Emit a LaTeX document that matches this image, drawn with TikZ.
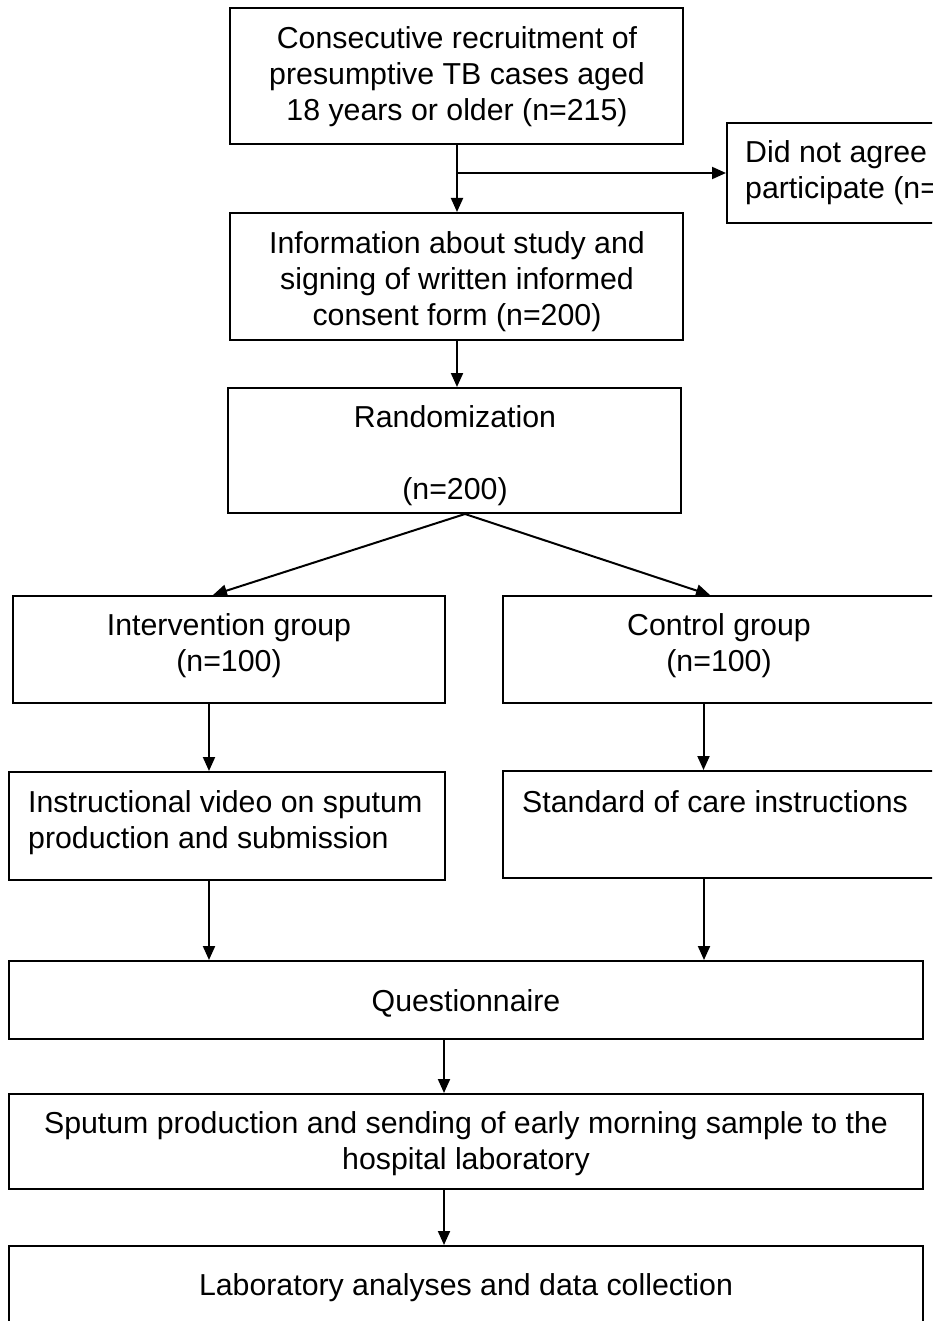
\documentclass[tikz,border=0pt]{standalone}
\usepackage{fontspec}
\setmainfont{Liberation Sans}
\usetikzlibrary{arrows.meta}
\tikzset{
  box/.style={draw, line width=2pt, inner sep=0pt, rectangle},
  txt/.style={inner sep=0pt, font=\fontsize{30.3}{36}\selectfont, align=center},
  arr/.style={line width=2pt, -{Triangle[length=14pt,width=12pt]}},
}
\begin{document}
\begin{tikzpicture}[x=1pt,y=-1pt]
\useasboundingbox[fill=white] (0,0) rectangle (932,1321);
\clip (0,0) rectangle (932,1321);
% boxes
\node[box, minimum width=453pt, minimum height=136pt] (b1) at (456.5,76) {};
\node[box, minimum width=253pt, minimum height=100pt] (no) at (853.5,173) {};
\node[box, minimum width=453pt, minimum height=127pt] (b2) at (456.5,276.5) {};
\node[box, minimum width=453pt, minimum height=125pt] (b3) at (454.5,450.5) {};
\node[box, minimum width=432pt, minimum height=107pt] (b4) at (229,649.5) {};
\node[box, minimum width=497pt, minimum height=107pt] (b5) at (751.5,649.5) {};
\node[box, minimum width=436pt, minimum height=108pt] (b6) at (227,826) {};
\node[box, minimum width=497pt, minimum height=107pt] (b7) at (751.5,824.5) {};
\node[box, minimum width=914pt, minimum height=78pt] (b8) at (466,1000) {};
\node[box, minimum width=914pt, minimum height=95pt] (b9) at (466,1141.5) {};
\node[box, minimum width=914pt, minimum height=114pt] (b10) at (466,1303) {};
% texts
\node[txt] (t1) at (457,77) {Consecutive recruitment of\\presumptive TB cases aged\\18 years or older (n=215)};
\node[txt, anchor=west, align=left] (tno) at (745,172.5) {Did not agree\\participate (n=};
\node[txt] (t2) at (457,282) {Information about study and\\signing of written informed\\consent form (n=200)};
\node[txt] (t3) at (455,456) {Randomization\\\mbox{}\\(n=200)};
\node[txt] (t4) at (229,645.5) {Intervention group\\(n=100)};
\node[txt] (t5) at (719,645.5) {Control group\\(n=100)};
\node[txt, anchor=west, align=left] (t6) at (28,822.5) {Instructional video on sputum\\production and submission};
\node[txt, anchor=west] (t7) at (522,801.5) {Standard of care instructions};
\node[txt] (t8) at (466,1003.5) {Questionnaire};
\node[txt] (t9) at (466,1143.5) {Sputum production and sending of early morning sample to the\\hospital laboratory};
\node[txt] (t10) at (466,1287.5) {Laboratory analyses and data collection};
% connectors
\coordinate (j) at (457,173);
\draw[arr] ([xshift=0.5pt]b1.south) -- ([xshift=0.5pt]b2.north);
\draw[arr] (j) -- (no.west |- j);
\draw[arr] ([xshift=0.5pt]b2.south) -- ([xshift=0.5pt]b2.south |- b3.north);
\coordinate (r) at ([xshift=10.5pt]b3.south);
\draw[arr] (r) -- ([xshift=-16pt]b4.north);
\draw[arr] (r) -- ([xshift=-41.5pt]b5.north);
\draw[arr] ([xshift=-20pt]b4.south) -- ([xshift=-20pt]b4.south |- b6.north);
\draw[arr] ([xshift=-48pt]b5.south) -- ([xshift=-48pt]b5.south |- b7.north);
\draw[arr] ([xshift=-18pt]b6.south) -- ([xshift=-18pt]b6.south |- b8.north);
\draw[arr] ([xshift=-47.5pt]b7.south) -- ([xshift=-47.5pt]b7.south |- b8.north);
\draw[arr] ([xshift=-22pt]b8.south) -- ([xshift=-22pt]b9.north);
\draw[arr] ([xshift=-22pt]b9.south) -- ([xshift=-22pt]b10.north);
\end{tikzpicture}
\end{document}
